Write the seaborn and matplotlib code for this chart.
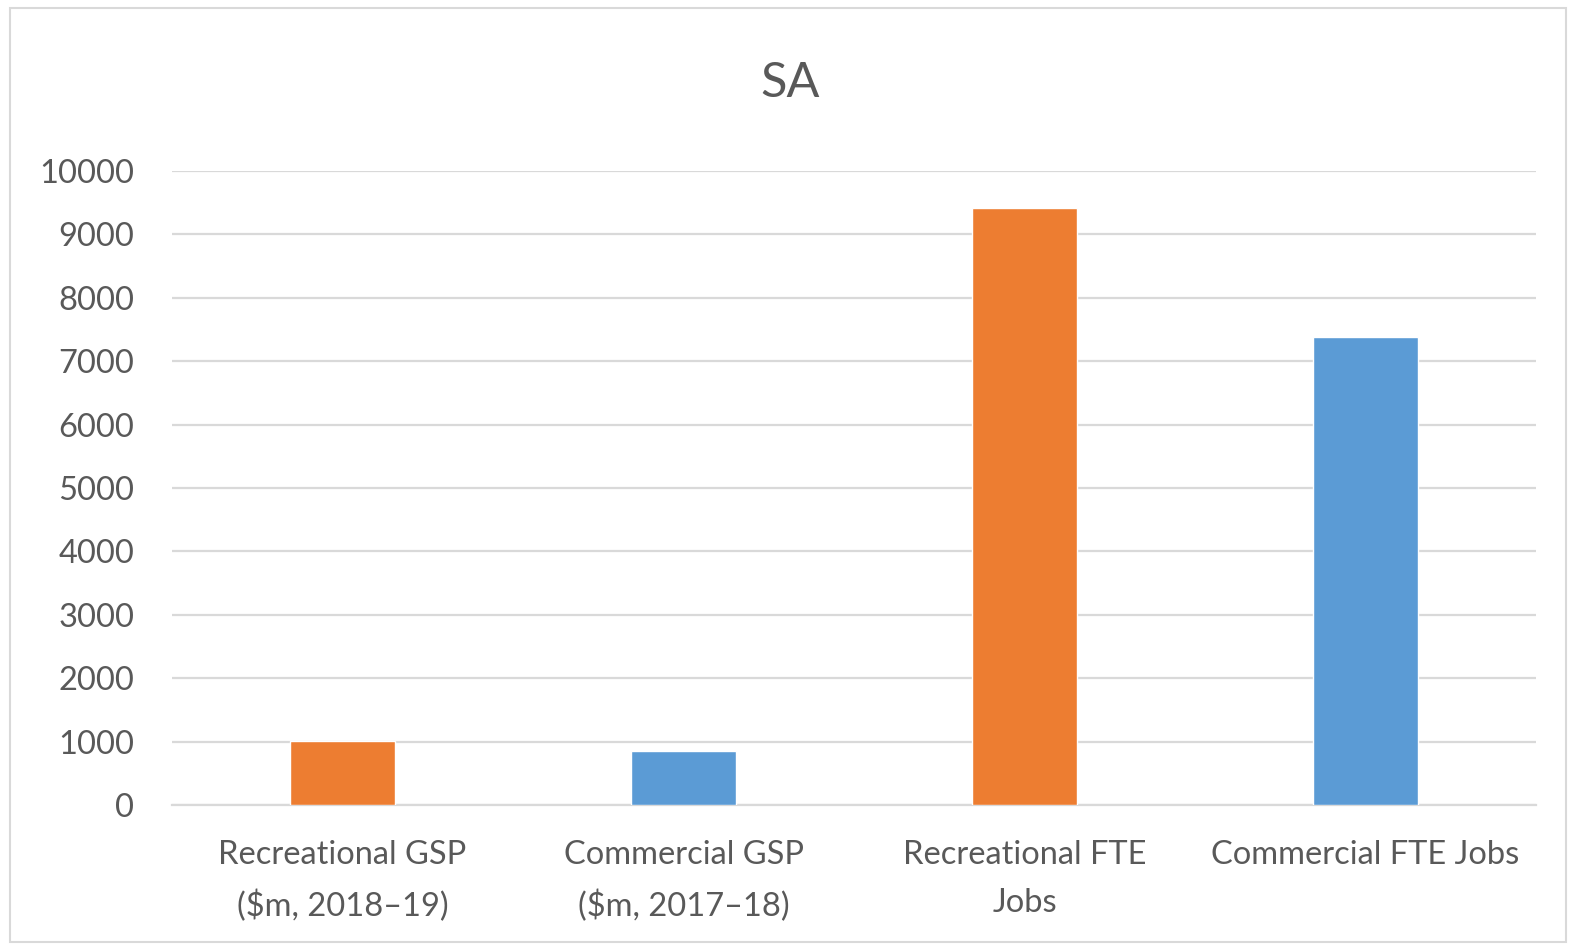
import matplotlib
matplotlib.use("Agg")
import matplotlib.pyplot as plt
import seaborn as sns
import pandas as pd
from matplotlib.patches import Rectangle

categories = ["Recreational GSP\n($m, 2018\u201319)",
              "Commercial GSP\n($m, 2017\u201318)",
              "Recreational FTE\nJobs",
              "Commercial FTE Jobs"]
values = [1005, 855, 9420, 7385]
bar_colors = ["#ED7D31", "#5B9BD5", "#ED7D31", "#5B9BD5"]
yticks = [0, 1000, 2000, 3000, 4000, 5000, 6000, 7000, 8000, 9000, 10000]
title = "SA"

sns.set_theme(style="white")
plt.rcParams['font.family'] = ['Lato', 'DejaVu Sans']

df = pd.DataFrame({"category": categories, "value": values})

fig = plt.figure(figsize=(15.8, 9.5), dpi=100)
W, H = 1580, 950
ax = fig.add_axes([172 / W, 1 - 805 / H, 1364 / W, (805 - 171) / H])

sns.barplot(data=df, x="category", y="value", hue="category",
            palette=bar_colors, width=0.305, legend=False, ax=ax,
            saturation=1, zorder=3)

ax.set_ylim(0, 10000)
ax.set_xlim(-0.5, 3.5)
ax.set_yticks(yticks)
ax.set_yticklabels([str(t) for t in yticks])
ax.yaxis.grid(True, color="#d9d9d9", linewidth=1.6, zorder=0)
ax.xaxis.grid(False)
for s in ["top", "right", "left"]:
    ax.spines[s].set_visible(False)
ax.spines["bottom"].set_color("#d9d9d9")
ax.spines["bottom"].set_linewidth(1.6)
ax.set_xlabel("")
ax.set_ylabel("")
ax.tick_params(axis="y", length=0, pad=27, labelsize=23.5, labelcolor="#595959")
ax.tick_params(axis="x", length=0, pad=25, labelsize=23.5, labelcolor="#595959")
for lbl in ax.get_xticklabels():
    lbl.set_linespacing(1.75)

fig.text(0.5, 1 - 83 / H, title, ha="center", va="center",
         fontsize=35, color="#595959")

fig.patches.append(Rectangle((10 / W, 1 - 942 / H), 1556 / W, 934 / H,
                             transform=fig.transFigure, fill=False,
                             edgecolor="#d9d9d9", linewidth=1.5))

fig.savefig("out.png", dpi=100, facecolor="white")
